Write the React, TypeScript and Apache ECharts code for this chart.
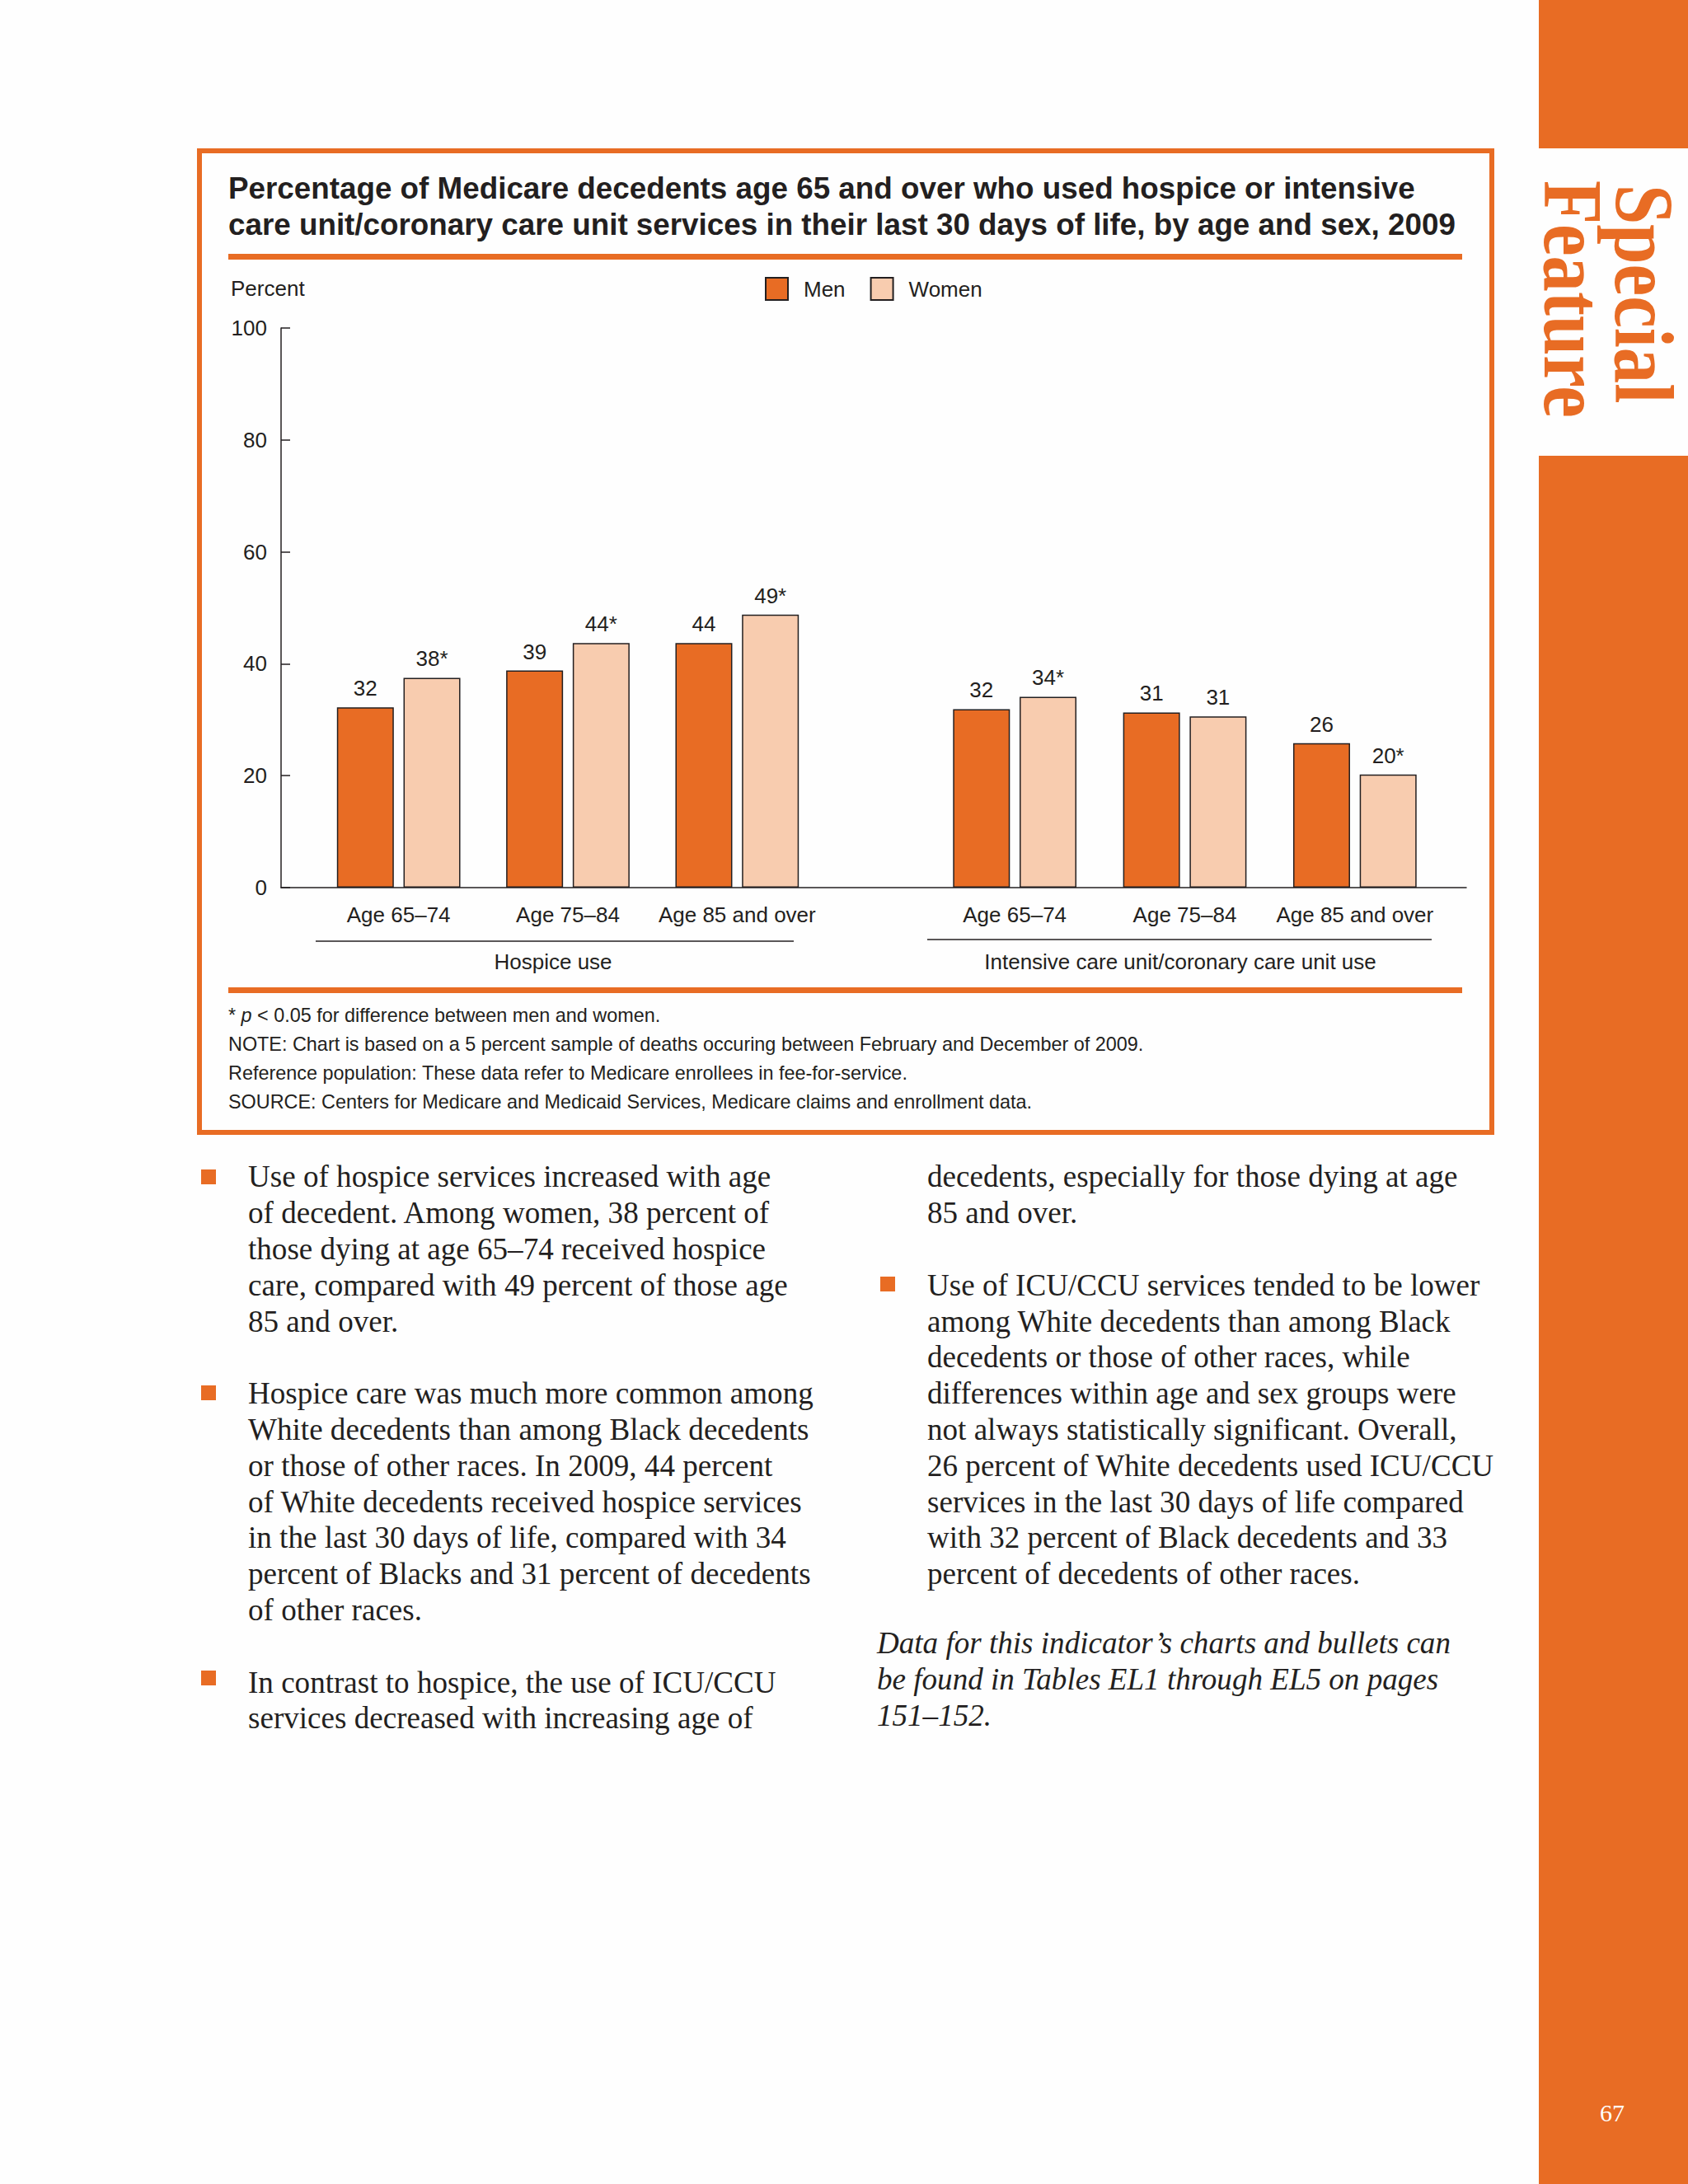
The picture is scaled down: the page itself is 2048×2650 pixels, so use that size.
import React, { useEffect, useRef } from 'react';
import * as echarts from 'echarts';

// ---------- data ----------
const ageGroups = ['Age 65–74', 'Age 75–84', 'Age 85 and over'];
const panelNames = ['Hospice use', 'Intensive care unit/coronary care unit use'];
const seriesNames = ['Men', 'Women'];
const hospiceMen = [32.2, 38.8, 43.7];
const hospiceWomen = [37.5, 43.7, 48.8];
const icuMen = [31.9, 31.3, 25.8];
const icuWomen = [34.1, 30.6, 20.2];
const hospiceMenLabels = ['32', '39', '44'];
const hospiceWomenLabels = ['38*', '44*', '49*'];
const icuMenLabels = ['32', '31', '26'];
const icuWomenLabels = ['34*', '31', '20*'];
const yMin = 0;
const yMax = 100;
const yInterval = 20;

const titleText =
  'Percentage of Medicare decedents age 65 and over who used hospice or intensive\ncare unit/coronary care unit services in their last 30 days of life, by age and sex, 2009';
const footnotes = [
  '* {i|p} < 0.05 for difference between men and women.',
  'NOTE: Chart is based on a 5 percent sample of deaths occuring between February and December of 2009.',
  'Reference population: These data refer to Medicare enrollees in fee-for-service.',
  'SOURCE: Centers for Medicare and Medicaid Services, Medicare claims and enrollment data.',
];
const leftColumn = [
  'Use of hospice services increased with age',
  'of decedent. Among women, 38 percent of',
  'those dying at age 65–74 received hospice',
  'care, compared with 49 percent of those age',
  '85 and over.',
  '',
  'Hospice care was much more common among',
  'White decedents than among Black decedents',
  'or those of other races. In 2009, 44 percent',
  'of White decedents received hospice services',
  'in the last 30 days of life, compared with 34',
  'percent of Blacks and 31 percent of decedents',
  'of other races.',
  '',
  'In contrast to hospice, the use of ICU/CCU',
  'services decreased with increasing age of',
];
const rightColumn = [
  'decedents, especially for those dying at age',
  '85 and over.',
  '',
  'Use of ICU/CCU services tended to be lower',
  'among White decedents than among Black',
  'decedents or those of other races, while',
  'differences within age and sex groups were',
  'not always statistically significant. Overall,',
  '26 percent of White decedents used ICU/CCU',
  'services in the last 30 days of life compared',
  'with 32 percent of Black decedents and 33',
  'percent of decedents of other races.',
];
const italicNote = [
  'Data for this indicator’s charts and bullets can',
  'be found in Tables EL1 through EL5 on pages',
  '151–152.',
];

// ---------- styles ----------
const ORANGE = '#E86C24';
const MEN = '#E86C24';
const WOMEN = '#F8CCAF';
const INK = '#231F20';
const SANS = '"Liberation Sans", Arial, Helvetica, sans-serif';
const SERIF = '"Liberation Serif", "Times New Roman", serif';

function barSeries(name: string, data: number[], labels: string[], axis: number, color: string) {
  return {
    type: 'bar',
    name,
    data,
    xAxisIndex: axis,
    yAxisIndex: axis,
    barWidth: 69,
    barGap: '17%',
    itemStyle: { color, borderColor: INK, borderWidth: 1.5 },
    label: {
      show: true,
      position: 'top',
      distance: 10,
      formatter: (p: any) => labels[p.dataIndex],
      fontSize: 26,
      fontFamily: SANS,
      color: INK,
    },
  };
}

export default function App() {
  const ref = useRef<HTMLDivElement>(null);
  useEffect(() => {
    if (!ref.current) return;
    const chart = echarts.init(ref.current, undefined, { renderer: 'svg' });

    const plotTop = 398;
    const plotH = 679;

    const catAxis = (gridIndex: number) => ({
      type: 'category',
      gridIndex,
      data: ageGroups,
      axisLine: { show: false },
      axisTick: { show: false },
      axisLabel: { fontSize: 26, fontFamily: SANS, color: INK, margin: 20, interval: 0, hideOverlap: false },
    });
    const hiddenY = (gridIndex: number) => ({
      type: 'value',
      gridIndex,
      min: yMin,
      max: yMax,
      interval: yInterval,
      show: false,
    });

    const bodyText = (x: number, y: number, lines: string[], italic = false) => ({
      type: 'text',
      x,
      y,
      style: {
        text: lines.join('\n'),
        fontSize: 37.1,
        fontFamily: SERIF,
        fontStyle: italic ? 'italic' : 'normal',
        lineHeight: 43.8,
        fill: INK,
        align: 'left',
        verticalAlign: 'top',
      },
    });
    const bullet = (x: number, cy: number) => ({
      type: 'rect',
      shape: { x, y: cy - 9, width: 18, height: 18 },
      style: { fill: ORANGE },
    });

    const option: any = {
      animation: false,
      backgroundColor: '#fefefe',
      title: {
        text: titleText,
        left: 277,
        top: 206,
        padding: 0,
        textStyle: {
          fontSize: 36.8,
          fontWeight: 'bold',
          fontFamily: SANS,
          color: INK,
          lineHeight: 44,
        },
      },
      legend: {
        data: seriesNames,
        left: 928,
        top: 336,
        padding: 0,
        itemWidth: 27,
        itemHeight: 27,
        itemGap: 30,
        icon: 'rect',
        textStyle: { fontSize: 26, fontFamily: SANS, color: INK, padding: [0, 0, 0, 14] },
      },
      grid: [
        { left: 341, top: plotTop, width: 1438, height: plotH },
        { left: 381, top: plotTop, width: 616, height: plotH },
        { left: 1128, top: plotTop, width: 619, height: plotH },
      ],
      xAxis: [
        {
          type: 'value',
          gridIndex: 0,
          min: 0,
          max: 1,
          axisLine: { show: true, lineStyle: { color: INK, width: 1.5 } },
          axisTick: { show: false },
          axisLabel: { show: false },
          splitLine: { show: false },
        },
        catAxis(1),
        catAxis(2),
      ],
      yAxis: [
        {
          type: 'value',
          gridIndex: 0,
          min: yMin,
          max: yMax,
          interval: yInterval,
          axisLine: { show: true, lineStyle: { color: INK, width: 1.5 } },
          axisTick: { show: true, inside: true, length: 11, lineStyle: { color: INK, width: 1.5 } },
          axisLabel: { fontSize: 26, fontFamily: SANS, color: INK, margin: 17 },
          splitLine: { show: false },
        },
        hiddenY(1),
        hiddenY(2),
      ],
      series: [
        barSeries(seriesNames[0], hospiceMen, hospiceMenLabels, 1, MEN),
        barSeries(seriesNames[1], hospiceWomen, hospiceWomenLabels, 1, WOMEN),
        barSeries(seriesNames[0], icuMen, icuMenLabels, 2, MEN),
        barSeries(seriesNames[1], icuWomen, icuWomenLabels, 2, WOMEN),
      ],
      graphic: [
        // chart frame
        {
          type: 'rect',
          shape: { x: 242, y: 183, width: 1568, height: 1191 },
          style: { fill: 'none', stroke: ORANGE, lineWidth: 6 },
        },
        { type: 'rect', shape: { x: 277, y: 308, width: 1497, height: 7 }, style: { fill: ORANGE } },
        { type: 'rect', shape: { x: 277, y: 1198, width: 1497, height: 7 }, style: { fill: ORANGE } },
        // y axis title
        {
          type: 'text',
          x: 280,
          y: 350,
          style: { text: 'Percent', fontSize: 26, fontFamily: SANS, fill: INK, align: 'left', verticalAlign: 'middle' },
        },
        // group brackets
        { type: 'line', shape: { x1: 383, y1: 1142, x2: 963, y2: 1142 }, style: { stroke: INK, lineWidth: 1.5 } },
        { type: 'line', shape: { x1: 1125, y1: 1140, x2: 1737, y2: 1140 }, style: { stroke: INK, lineWidth: 1.5 } },
        {
          type: 'text',
          x: 671,
          y: 1167,
          style: { text: panelNames[0], fontSize: 26, fontFamily: SANS, fill: INK, align: 'center', verticalAlign: 'middle' },
        },
        {
          type: 'text',
          x: 1432,
          y: 1167,
          style: { text: panelNames[1], fontSize: 26, fontFamily: SANS, fill: INK, align: 'center', verticalAlign: 'middle' },
        },
        // footnotes
        ...footnotes.map((t, i) => ({
          type: 'text',
          x: 277,
          y: [1232, 1267, 1302, 1337][i],
          style: {
            text: t,
            fontSize: 23.4,
            fontFamily: SANS,
            fill: INK,
            align: 'left',
            verticalAlign: 'middle',
            rich: { i: { fontStyle: 'italic', fontSize: 23.4, fontFamily: SANS, fill: INK } },
          },
        })),
        // body text
        bodyText(301, 1406, leftColumn),
        bodyText(1125, 1406, rightColumn),
        bodyText(1064, 1972, italicNote, true),
        bullet(244, 1428),
        bullet(244, 1690),
        bullet(244, 2036),
        bullet(1068, 1558),
        // side band
        { type: 'rect', shape: { x: 1867, y: 0, width: 181, height: 180 }, style: { fill: ORANGE } },
        { type: 'rect', shape: { x: 1867, y: 553, width: 181, height: 2097 }, style: { fill: ORANGE } },
        {
          type: 'text',
          x: 1994,
          y: 224,
          rotation: -Math.PI / 2,
          scaleX: 0.86,
          style: {
            text: 'Special',
            fontSize: 101,
            lineHeight: 78,
            fontWeight: 'bold',
            fontFamily: SERIF,
            fill: ORANGE,
            align: 'left',
            verticalAlign: 'middle',
          },
        },
        {
          type: 'text',
          x: 1908,
          y: 219,
          rotation: -Math.PI / 2,
          scaleX: 0.86,
          style: {
            text: 'Feature',
            fontSize: 101,
            lineHeight: 78,
            fontWeight: 'bold',
            fontFamily: SERIF,
            fill: ORANGE,
            align: 'left',
            verticalAlign: 'middle',
          },
        },
        {
          type: 'text',
          x: 1956,
          y: 2563,
          style: { text: '67', fontSize: 30, fontFamily: SERIF, fill: '#ffffff', align: 'center', verticalAlign: 'middle' },
        },
      ],
    };

    chart.setOption(option);
    return () => chart.dispose();
  }, []);

  return (
    <div
      ref={ref}
      style={{ position: 'absolute', left: 0, top: 0, width: 2048, height: 2650 }}
    />
  );
}
